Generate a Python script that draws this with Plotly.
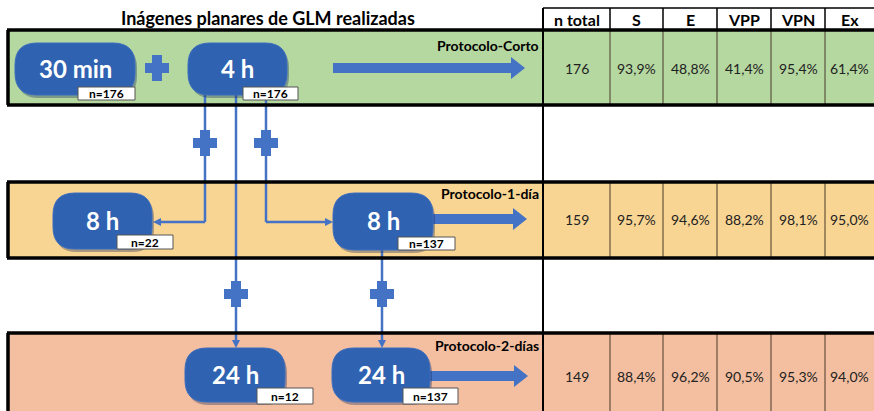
import plotly.graph_objects as go

W, H = 874, 411

title = "Inágenes planares de GLM realizadas"
headers = ["n total", "S", "E", "VPP", "VPN", "Ex"]
protocols = ["Protocolo-Corto", "Protocolo-1-día", "Protocolo-2-días"]
n_total = ["176", "159", "149"]
sens = ["93,9%", "95,7%", "88,4%"]
spec = ["48,8%", "94,6%", "96,2%"]
vpp = ["41,4%", "88,2%", "90,5%"]
vpn = ["95,4%", "98,1%", "95,3%"]
exact = ["61,4%", "95,0%", "94,0%"]

node_labels = ["30 min", "4 h", "8 h", "8 h", "24 h", "24 h"]
node_n = ["n=176", "n=176", "n=22", "n=137", "n=12", "n=137"]

# layout geometry (pixels)
col_edges = [543, 610, 663, 717, 771, 825, 874]
bands = [(30, 105), (182, 258), (333, 411)]
band_colors = ["#B5D7A0", "#F9D593", "#F4BFA0"]
node_box = [(15, 43, 135, 95), (188, 43, 287, 95), (53, 193, 152, 249),
            (333, 193, 433, 250), (185, 348, 285, 402), (332, 348, 430, 402)]
n_box = [(78, 87, 135, 100), (243, 87, 298, 100), (117, 235, 173, 249),
         (398, 237, 455, 250), (257, 388, 313, 404), (403, 388, 458, 404)]

BLUE = "#2F62B0"
LINE = "#4472C4"
FONT = "Lato"

fig = go.Figure()
shapes = []
ann = []


def rrect(x0, y0, x1, y1, r):
    return (f"M {x0+r},{y0} L {x1-r},{y0} Q {x1},{y0} {x1},{y0+r} "
            f"L {x1},{y1-r} Q {x1},{y1} {x1-r},{y1} L {x0+r},{y1} "
            f"Q {x0},{y1} {x0},{y1-r} L {x0},{y0+r} Q {x0},{y0} {x0+r},{y0} Z")


def rect(x0, y0, x1, y1, fill, lw=0, lc="black"):
    shapes.append(dict(type="rect", x0=x0, y0=y0, x1=x1, y1=y1,
                       fillcolor=fill, line=dict(width=lw, color=lc)))


def seg(x0, y0, x1, y1, w, c):
    shapes.append(dict(type="line", x0=x0, y0=y0, x1=x1, y1=y1,
                       line=dict(width=w, color=c)))


def poly(pts, fill):
    p = "M " + " L ".join(f"{x},{y}" for x, y in pts) + " Z"
    shapes.append(dict(type="path", path=p, fillcolor=fill, line=dict(width=0)))


def plus(cx, cy, s=13, t=5):
    rect(cx - t, cy - s, cx + t, cy + s, LINE)
    rect(cx - s + 1, cy - t, cx + s - 1, cy + t, LINE)


def block_arrow(x0, x1, y):
    poly([(x0, y - 5), (x1 - 14, y - 5), (x1 - 14, y - 11), (x1, y),
          (x1 - 14, y + 11), (x1 - 14, y + 5), (x0, y + 5)], LINE)


# bands and table cells
for i, (y0, y1) in enumerate(bands):
    rect(8, y0, 874, y1, band_colors[i])
rect(543, 8, 874, 30, "white")

# connectors
seg(205, 95, 205, 222, 2.5, LINE)
seg(205, 222, 160, 222, 2.5, LINE)
poly([(153, 222), (161, 218), (161, 226)], LINE)
seg(266, 95, 266, 222, 2.5, LINE)
seg(266, 222, 326, 222, 2.5, LINE)
poly([(333, 222), (325, 218), (325, 226)], LINE)
seg(236, 95, 236, 341, 2.5, LINE)
poly([(236, 348), (232, 340), (240, 340)], LINE)
seg(382, 250, 382, 341, 2.5, LINE)
poly([(382, 348), (378, 340), (386, 340)], LINE)

for cx, cy in [(205, 143), (266, 143), (236, 294), (382, 294), (157, 68)]:
    plus(cx, cy)

block_arrow(333, 525, 68)
block_arrow(433, 527, 219)
block_arrow(430, 528, 376)

# nodes
for i, (x0, y0, x1, y1) in enumerate(node_box):
    shapes.append(dict(type="path", path=rrect(x0 + 2, y0 + 3, x1 + 2, y1 + 3, 22),
                       fillcolor="rgba(20,40,90,0.35)", line=dict(width=0)))
    shapes.append(dict(type="path", path=rrect(x0, y0, x1, y1, 22),
                       fillcolor=BLUE, line=dict(width=1, color="#3A6CC0")))
    ann.append(dict(x=(x0 + x1) / 2, y=(y0 + y1) / 2 - 1, text=f"<b>{node_labels[i]}</b>",
                    showarrow=False, font=dict(family=FONT, size=24, color="white")))
for i, (x0, y0, x1, y1) in enumerate(n_box):
    rect(x0, y0, x1, y1, "white", 1, "#555555")
    ann.append(dict(x=(x0 + x1) / 2, y=(y0 + y1) / 2, text=f"<b>{node_n[i]}</b>",
                    showarrow=False, font=dict(family=FONT, size=12, color="black")))

# table grid
for x in col_edges[1:-1]:
    seg(x, 8, x, 30, 1.5, "black")
    for y0, y1 in bands:
        seg(x, y0, x, y1, 1, "#4A3A2A")
seg(543, 8, 543, 411, 2, "black")
seg(543, 8, 874, 8, 1.5, "black")
for y0, y1 in bands:
    seg(7, y0, 874, y0, 3.5, "black")
    seg(8, y0, 8, y1, 3.5, "black")
    if y1 < H:
        seg(7, y1, 874, y1, 3.5, "black")

# texts
ann.append(dict(x=268, y=18, text=f"<b>{title}</b>", showarrow=False,
                font=dict(family=FONT, size=18, color="black")))
lab_y = [45, 193, 345]
for i, p in enumerate(protocols):
    ann.append(dict(x=541, y=lab_y[i], text=f"<b>{p}</b>", showarrow=False, xanchor="right",
                    font=dict(family=FONT, size=14, color="black")))

centers = [(col_edges[j] + col_edges[j + 1]) / 2 for j in range(len(headers))]
for j, h in enumerate(headers):
    ann.append(dict(x=centers[j], y=19, text=f"<b>{h}</b>", showarrow=False,
                    font=dict(family=FONT, size=16, color="black")))
row_y = [68, 219, 376]
cols = [n_total, sens, spec, vpp, vpn, exact]
for j, vals in enumerate(cols):
    for i, v in enumerate(vals):
        ann.append(dict(x=centers[j], y=row_y[i], text=v, showarrow=False,
                        font=dict(family=FONT, size=14, color="#222222")))

fig.update_layout(
    width=W, height=H, margin=dict(l=0, r=0, t=0, b=0),
    plot_bgcolor="white", paper_bgcolor="white",
    shapes=shapes, annotations=ann, showlegend=False,
    xaxis=dict(range=[0, W], visible=False, fixedrange=True),
    yaxis=dict(range=[H, 0], visible=False, fixedrange=True),
)

fig.write_html("out.html", config={"displayModeBar": False},
               post_script="document.body.style.margin='0';document.body.style.overflow='hidden';")
